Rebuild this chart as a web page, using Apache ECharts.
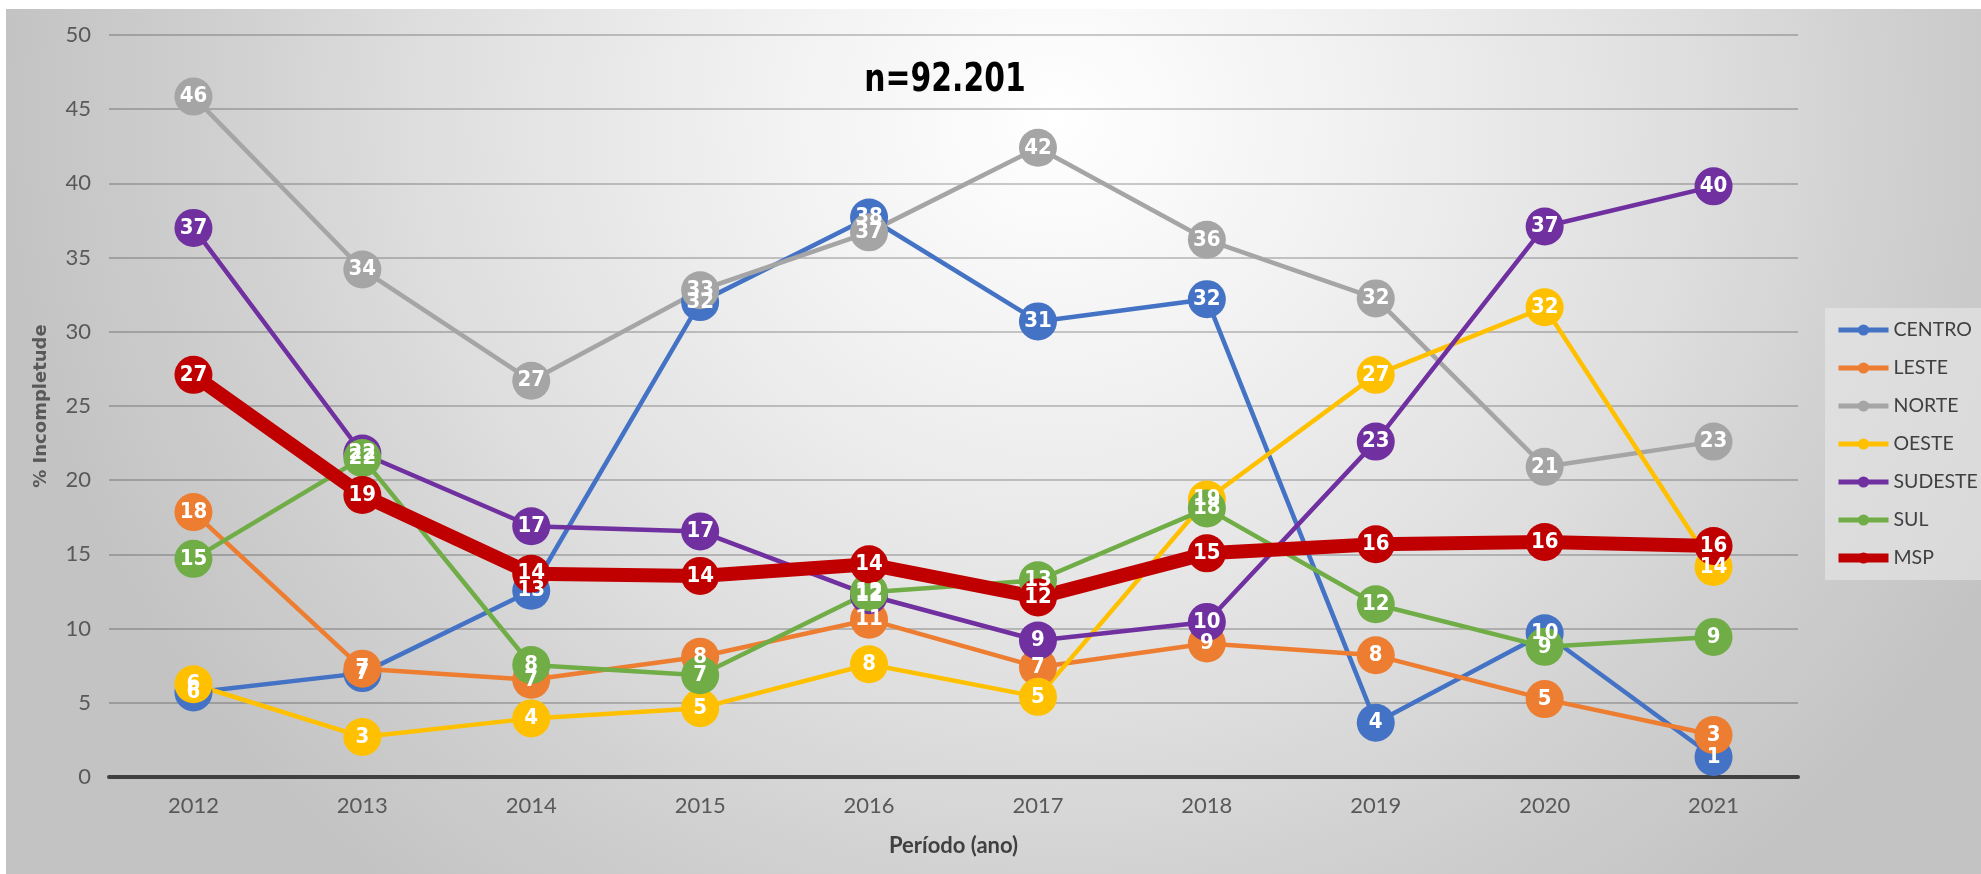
<!DOCTYPE html>
<html>
<head>
    <meta charset="UTF-8">
    <title>% Incompletude por região</title>
    <script type="text/javascript" src="https://cdn.jsdelivr.net/npm/echarts@6/dist/echarts.min.js"></script>
    <style>
        body { margin: 0; background: #ffffff; }
        #bg {
            position: absolute; left: 6px; top: 9px; width: 1975px; height: 865px;
            background: radial-gradient(ellipse 1060px 1000px at 1050px 110px,
                #ffffff 0%, #f0f0f0 30%, #dedede 60%, #cfcfcf 80%, #c3c3c3 100%);
        }
        #chart { position: absolute; left: 0; top: 0; width: 1981px; height: 874px; }
    </style>
</head>
<body>
<div id="bg"></div>
<div id="chart"></div>
<script>
    var years = ['2012', '2013', '2014', '2015', '2016', '2017', '2018', '2019', '2020', '2021'];
    var centro = [5.7, 7.0, 12.55, 32.0, 37.7, 30.7, 32.2, 3.66, 9.69, 1.35];
    var leste = [17.85, 7.3, 6.55, 8.1, 10.6, 7.4, 9.0, 8.2, 5.25, 2.83];
    var norte = [45.85, 34.2, 26.7, 32.8, 36.7, 42.4, 36.2, 32.25, 20.9, 22.6];
    var oeste = [6.25, 2.7, 3.95, 4.64, 7.6, 5.4, 18.7, 27.1, 31.65, 14.15];
    var sudeste = [37.0, 21.8, 16.9, 16.55, 12.25, 9.2, 10.45, 22.6, 37.1, 39.8];
    var sul = [14.7, 21.5, 7.55, 6.86, 12.45, 13.26, 18.1, 11.64, 8.77, 9.44];
    var msp = [27.1, 19.0, 13.7, 13.55, 14.33, 12.1, 15.07, 15.68, 15.84, 15.57];

    var names = ['CENTRO', 'LESTE', 'NORTE', 'OESTE', 'SUDESTE', 'SUL', 'MSP'];
    var colors = ['#4472C4', '#ED7D31', '#A5A5A5', '#FFC000', '#7030A0', '#70AD47', '#C00000'];
    var values = [centro, leste, norte, oeste, sudeste, sul, msp];

    var axisFont = "Lato, 'Open Sans', sans-serif";
    var labelFont = "'Liberation Sans Narrow', 'DejaVu Sans Condensed', sans-serif";

    var series = names.map(function (name, i) {
        var isMsp = name == 'MSP';
        return {
            name: name,
            type: 'line',
            data: values[i],
            symbol: 'circle',
            symbolSize: 38,
            lineStyle: { color: colors[i], width: isMsp ? 14 : 4.5 },
            itemStyle: { color: colors[i], borderWidth: 0 },
            label: {
                show: true,
                position: 'inside',
                color: '#ffffff',
                fontFamily: labelFont,
                fontWeight: 'bold',
                fontSize: 22,
                formatter: function (p) { return Math.round(p.value); }
            },
            emphasis: { disabled: true },
            animation: false
        };
    });

    var chart = echarts.init(document.getElementById('chart'));
    chart.setOption({
        backgroundColor: 'transparent',
        animation: false,
        color: colors,
        grid: { left: 109, right: 183, top: 35, bottom: 97, outerBoundsMode: 'none' },
        graphic: [{
            type: 'text',
            x: 945,
            y: 81,
            scaleX: 0.85,
            style: {
                text: 'n=92.201',
                fill: '#000000',
                font: "bold 39px 'Liberation Sans Narrow', 'DejaVu Sans Condensed', sans-serif",
                textAlign: 'center',
                textVerticalAlign: 'middle'
            }
        }],
        legend: {
            orient: 'vertical',
            left: 1825,
            top: 308,
            padding: [12, 12, 12, 9],
            itemWidth: 50,
            itemHeight: 14,
            itemGap: 18,
            backgroundColor: 'rgba(235,235,235,0.55)',
            textStyle: { color: '#404040', fontFamily: axisFont, fontSize: 19.5 },
            data: names.map(function (name) {
                return {
                    name: name,
                    lineStyle: { width: name == 'MSP' ? 9 : 5 }
                };
            })
        },
        xAxis: {
            type: 'category',
            data: years,
            boundaryGap: true,
            name: 'Período (ano)',
            nameLocation: 'middle',
            nameGap: 58,
            nameTextStyle: { color: '#404040', fontFamily: axisFont, fontWeight: 'bold', fontSize: 22 },
            axisLine: { show: true, lineStyle: { color: '#404040', width: 4 } },
            axisTick: { show: false },
            axisLabel: { color: '#595959', fontFamily: axisFont, fontSize: 22, margin: 18 },
            splitLine: { show: false }
        },
        yAxis: {
            type: 'value',
            min: 0,
            max: 50,
            interval: 5,
            name: '% Incompletude',
            nameLocation: 'middle',
            nameGap: 59,
            nameTextStyle: { color: '#595959', fontFamily: "'DejaVu Sans', sans-serif", fontWeight: 'bold', fontSize: 18 },
            axisLine: { show: false },
            axisTick: { show: false },
            axisLabel: { color: '#595959', fontFamily: axisFont, fontSize: 22, margin: 18 },
            splitLine: { show: true, lineStyle: { color: 'rgba(0,0,0,0.2)', width: 2 } }
        },
        series: series
    });
</script>
</body>
</html>
